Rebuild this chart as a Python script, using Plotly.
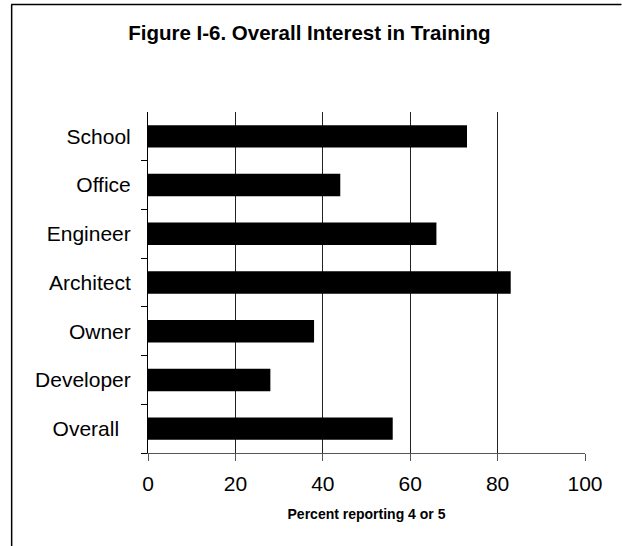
import plotly.graph_objects as go

categories = ["School", "Office", "Engineer", "Architect", "Owner", "Developer", "Overall"]
values = [73, 44, 66, 83, 38, 28, 56]
tick_labels = ["School", "Office", "Engineer", "Architect", "Owner", "Developer", "Overall\u00a0\u00a0"]
x_ticks = [0, 20, 40, 60, 80, 100]
grid_vals = [20, 40, 60, 80]

FONT = "Arial, 'Liberation Sans', sans-serif"
W, H = 622, 546
L, R, T, B = 148, 36.5, 112, 93.3
pw = W - L - R
ph = H - T - B

def px2paper_x(px):
    return (px - L) / pw

def px2paper_y(py):
    return (H - B - py) / ph

fig = go.Figure()
fig.add_trace(go.Bar(
    x=values[::-1], y=categories[::-1], orientation="h",
    marker=dict(color="black", line=dict(width=0)),
    showlegend=False, hoverinfo="x+y",
))
# invisible trace to carry gridline axis
fig.add_trace(go.Scatter(x=[0, 100], y=[categories[0], categories[0]], xaxis="x2",
                         mode="markers", marker=dict(opacity=0), showlegend=False, hoverinfo="skip"))

fig.update_layout(
    width=W, height=H,
    margin=dict(l=L, r=R, t=T, b=B, pad=0),
    paper_bgcolor="white", plot_bgcolor="rgba(0,0,0,0)",
    bargap=0.54,
    font=dict(family=FONT, color="black"),
    title=dict(text="<b>Figure I-6. Overall Interest in Training</b>",
               font=dict(size=20.5, family=FONT, color="black"),
               x=px2paper_x(309.5), xref="paper", xanchor="center",
               y=1 - 33 / H, yref="container", yanchor="middle"),
    xaxis=dict(range=[0, 100], tickvals=x_ticks, ticktext=[str(v) for v in x_ticks],
               showgrid=False, zeroline=False, showline=True, linecolor="#555", linewidth=1,
               ticks="outside", ticklen=7, tickcolor="#555", tickwidth=1,
               tickfont=dict(size=21, family=FONT, color="black"), ticklabelstandoff=5,
               title=dict(text="<b>Percent reporting 4 or 5</b>",
                          font=dict(size=14, family=FONT, color="black"), standoff=14),
               fixedrange=True),
    xaxis2=dict(range=[0, 100], overlaying="x", side="bottom", tickvals=grid_vals,
                showticklabels=False, ticks="", showgrid=True, gridcolor="#222", gridwidth=1,
                zeroline=False, showline=False),
    yaxis=dict(categoryorder="array", categoryarray=categories[::-1],
               tickvals=categories, ticktext=tick_labels,
               showgrid=False, zeroline=False, showline=True, linecolor="black", linewidth=1,
               ticks="outside", ticklen=6, tickcolor="black", tickwidth=1, tickson="boundaries",
               tickfont=dict(size=21, family=FONT, color="black"), ticklabelstandoff=12),
    shapes=[
        dict(type="line", xref="paper", yref="paper",
             x0=px2paper_x(11.5), x1=px2paper_x(11.5), y0=px2paper_y(4.5), y1=px2paper_y(546),
             line=dict(color="black", width=1.5)),
        dict(type="line", xref="paper", yref="paper",
             x0=px2paper_x(11), x1=px2paper_x(622), y0=px2paper_y(4.5), y1=px2paper_y(4.5),
             line=dict(color="black", width=1.5)),
    ],
)

fig.write_html("out.html")
